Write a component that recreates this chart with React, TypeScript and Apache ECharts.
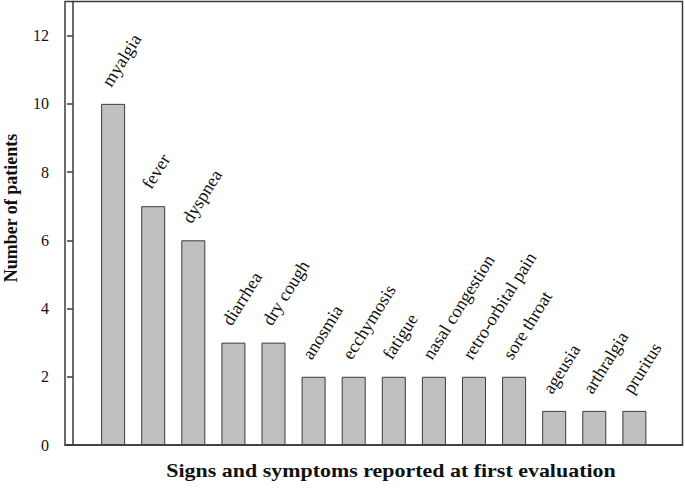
import React, { useEffect, useRef } from "react";
import * as echarts from "echarts";

const categories = [
  "myalgia",
  "fever",
  "dyspnea",
  "diarrhea",
  "dry cough",
  "anosmia",
  "ecchymosis",
  "fatigue",
  "nasal congestion",
  "retro-orbital pain",
  "sore throat",
  "ageusia",
  "arthralgia",
  "pruritus",
];
const patients = [10, 7, 6, 3, 3, 2, 2, 2, 2, 2, 2, 1, 1, 1];
const yTicks = [0, 2, 4, 6, 8, 10, 12];
const yTitle = "Number of patients";
const xTitle = "Signs and symptoms reported at first evaluation";

const FONT = "Liberation Serif, Times New Roman, serif";

export default function App() {
  const ref = useRef<HTMLDivElement>(null);
  useEffect(() => {
    if (!ref.current) return;
    const chart = echarts.init(ref.current, undefined, { renderer: "svg" });
    const data = categories.map((c, i) => ({ name: c, value: [i + 1, patients[i]] }));
    chart.setOption({
      animation: false,
      backgroundColor: "#ffffff",
      grid: {
        left: 65,
        top: 1.5,
        right: 2.5,
        bottom: 49,
        show: true,
        borderColor: "#3a3a3a",
        borderWidth: 1.5,
        backgroundColor: "transparent",
      },
      xAxis: {
        type: "value",
        min: -0.2,
        max: 15.2,
        axisLine: { show: true, onZero: false, lineStyle: { color: "#3a3a3a", width: 1.5 } },
        axisTick: { show: false },
        axisLabel: { show: false },
        splitLine: { show: false },
      },
      yAxis: {
        type: "value",
        min: 0,
        max: 13,
        axisLine: { show: true, lineStyle: { color: "#3a3a3a", width: 1.5 } },
        axisTick: {
          show: true,
          length: 6,
          customValues: yTicks,
          lineStyle: { color: "#3a3a3a", width: 1.5 },
        },
        axisLabel: {
          customValues: yTicks,
          margin: 16,
          fontFamily: FONT,
          fontSize: 16,
          color: "#111",
        },
        splitLine: { show: false },
      },
      graphic: [
        {
          type: "text",
          x: 391,
          y: 471,
          scaleX: 1.22,
          style: {
            text: xTitle,
            font: `bold 18px ${FONT}`,
            fill: "#111",
            textAlign: "center",
            textVerticalAlign: "middle",
          },
        },
        {
          type: "text",
          x: 11,
          y: 208,
          rotation: Math.PI / 2,
          style: {
            text: yTitle,
            font: `bold 18px ${FONT}`,
            fill: "#111",
            textAlign: "center",
            textVerticalAlign: "middle",
          },
        },
      ],
      series: [
        {
          type: "bar",
          data,
          barWidth: 24,
          itemStyle: { color: "#c0c0c0", borderColor: "#3a3a3a", borderWidth: 1 },
          label: {
            show: true,
            formatter: "{b}",
            position: "top",
            distance: 0,
            rotate: 58,
            align: "left",
            verticalAlign: "middle",
            offset: [12.5, -16],
            fontFamily: FONT,
            fontSize: 18,
            color: "#111",
          },
        },
      ],
    });
    return () => chart.dispose();
  }, []);
  return (
    <div
      ref={ref}
      style={{ position: "absolute", left: 0, top: 0, width: 685, height: 494 }}
    />
  );
}
